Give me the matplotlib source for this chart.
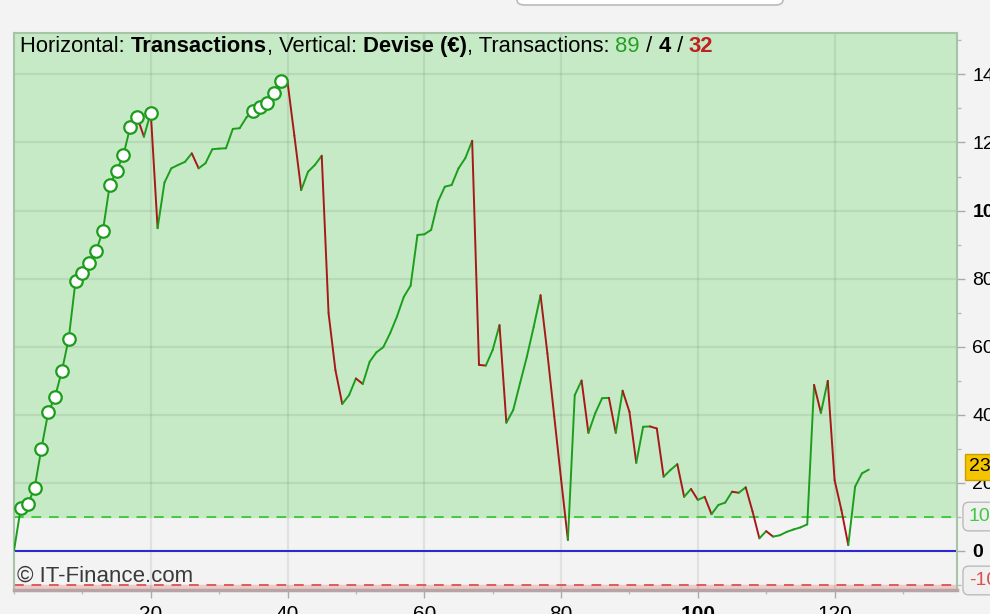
import matplotlib
matplotlib.use("Agg")
import matplotlib.pyplot as plt
from matplotlib.patches import FancyBboxPatch
from matplotlib.transforms import blended_transform_factory
from matplotlib.ticker import MultipleLocator, FuncFormatter

# equity curve (€) after each transaction, index = transaction number
equity = [0, 126, 136, 183, 299, 406, 452, 528, 623, 793, 817, 846, 881, 940, 1075,
          1116, 1163, 1246, 1276, 1217, 1288, 948, 1082, 1124, 1134, 1143, 1168, 1124,
          1139, 1180, 1182, 1183, 1240, 1242, 1274, 1294, 1305, 1317, 1346, 1382, 1378,
          1220, 1060, 1114, 1134, 1161, 698, 531, 431, 457, 506, 490, 555, 583, 598,
          639, 688, 746, 779, 928, 930, 943, 1026, 1070, 1075, 1124, 1154, 1205, 546,
          544, 590, 663, 376, 413, 492, 570, 658, 751, 580, 395, 210, 31, 457, 500,
          346, 404, 448, 449, 346, 470, 408, 258, 364, 365, 359, 217, 237, 254, 158,
          181, 149, 158, 107, 134, 141, 173, 170, 186, 115, 36, 57, 41, 45, 55, 62, 68,
          77, 487, 405, 499, 207, 119, 16, 188, 227, 238]
n_up, n_flat, n_down = 89, 4, 32
upper_level = 100
lower_level = -100
y_ticks = [0, 200, 400, 600, 800, 1000, 1200, 1400]
x_ticks = [20, 40, 60, 80, 100, 120]

BG = '#f3f3f3'
GREEN = '#1c9e1c'
RED = '#a81818'

plt.rcParams['font.family'] = ['Liberation Sans', 'DejaVu Sans']

fig = plt.figure(figsize=(9.9, 6.14), dpi=100, facecolor=BG)
ax = fig.add_axes([14/990, 1 - 590/614, (957 - 14)/990, (590 - 33)/614])
ax.set_facecolor(BG)
ax.set_xlim(0, 137.9)
ax.set_ylim(-116, 1522)

# zones
ax.axhspan(upper_level, 1522, color='#c6eac6', zorder=0)
ax.axhspan(-116, lower_level, color='#ebcaca', zorder=0)
ax.axhline(upper_level, color='#44c844', linestyle=(0, (5, 4)), linewidth=1.4, zorder=1)
ax.axhline(lower_level, color='#dc5c5c', linestyle=(0, (5, 4)), linewidth=1.4, zorder=1)
ax.axhline(0, color='#2a2ad0', linewidth=1.5, zorder=2)

# grid
ax.set_xticks(x_ticks)
ax.set_yticks(y_ticks)
ax.xaxis.set_minor_locator(MultipleLocator(10))
ax.yaxis.set_minor_locator(MultipleLocator(100))
ax.grid(True, which='major', color='black', alpha=0.07, linewidth=1.6, zorder=0.5)
ax.set_axisbelow(True)

# equity segments coloured by direction
for i in range(1, len(equity)):
    c = GREEN if equity[i] >= equity[i - 1] else RED
    ax.plot([i - 1, i], [equity[i - 1], equity[i]], color=c, linewidth=1.4,
            solid_capstyle='round', zorder=3)

# new equity highs
peak = equity[0]
hx, hy = [], []
for i, v in enumerate(equity):
    if v > peak:
        hx.append(i)
        hy.append(v)
        peak = v
ax.plot(hx, hy, 'o', markersize=9, markerfacecolor='white', markeredgecolor=GREEN,
        markeredgewidth=1.6, linestyle='none', zorder=4)

# axes styling
ax.yaxis.tick_right()
ax.tick_params(axis='y', which='major', length=6, width=1, color='#aaaaaa',
               labelsize=14, pad=5)
ax.tick_params(axis='y', which='minor', length=3, width=1, color='#bbbbbb')
ax.tick_params(axis='x', which='major', length=6, width=1, color='#aaaaaa',
               labelsize=15, pad=5)
ax.tick_params(axis='x', which='minor', length=3, width=1, color='#bbbbbb')
ax.yaxis.set_major_formatter(FuncFormatter(lambda v, p: f'{int(v)}'))
fig.canvas.draw()
for lab in ax.get_yticklabels():
    if lab.get_text() in ('0', '1000'):
        lab.set_fontweight('bold')
for lab in ax.get_xticklabels():
    if lab.get_text() == '100':
        lab.set_fontweight('bold')

for side in ('left', 'top', 'right'):
    ax.spines[side].set_color('#a6c4a6')
    ax.spines[side].set_linewidth(1.5)
ax.spines['bottom'].set_color('#b8a4a4')
ax.spines['bottom'].set_linewidth(2.5)

# value boxes on the right
tr = blended_transform_factory(ax.transAxes, ax.transData)
ax.text(1.0125, upper_level, str(upper_level), transform=tr, va='center', ha='left',
        fontsize=14, color='#44c844', clip_on=False, zorder=6,
        bbox=dict(boxstyle='round,pad=0.3', fc='#f0f0f0', ec='#bbbbbb'))
ax.text(1.0125, lower_level + 12, str(lower_level), transform=tr, va='center', ha='left',
        fontsize=14, color='#dc5050', clip_on=False, zorder=6,
        bbox=dict(boxstyle='round,pad=0.3', fc='#f0f0f0', ec='#bbbbbb'))
ax.text(1.0125, equity[-1] + 8, str(equity[-1]), transform=tr, va='center', ha='left',
        fontsize=14, color='black', clip_on=False, zorder=7,
        bbox=dict(boxstyle='square,pad=0.22', fc='#f5c400', ec='#c8a000'))

# header text in pieces
pieces = [('Horizontal: ', 'black', 'normal'), ('Transactions', 'black', 'bold'),
          (', Vertical: ', 'black', 'normal'), ('Devise (€)', 'black', 'bold'),
          (', Transactions: ', 'black', 'normal'), (str(n_up), '#22a022', 'normal'),
          (' / ', 'black', 'normal'), (str(n_flat), 'black', 'bold'),
          (' / ', 'black', 'normal'), (str(n_down), '#c02020', 'bold')]
t = None
for s, col, w in pieces:
    if t is None:
        t = ax.text(6/943, 1 - 19/557, s, transform=ax.transAxes, fontsize=15.8,
                    color=col, fontweight=w, va='baseline', ha='left', zorder=8)
    else:
        t = ax.annotate(s, xy=(1, 0), xycoords=t, fontsize=15.8, color=col,
                        fontweight=w, va='bottom', ha='left', zorder=8)

ax.text(3/943, 3/557, '© IT-Finance.com', transform=ax.transAxes, fontsize=16,
        color='#3a3a3a', va='bottom', ha='left', zorder=8)

# toolbar box peeking at the top
fig.patches.append(FancyBboxPatch((517/990, 1 - 5/614), 266/990, 0.05,
                                  boxstyle='round,pad=0,rounding_size=0.008',
                                  transform=fig.transFigure, fc='white', ec='#bbbbbb',
                                  lw=1.2))

fig.savefig('out.png', dpi=100, facecolor=BG)
